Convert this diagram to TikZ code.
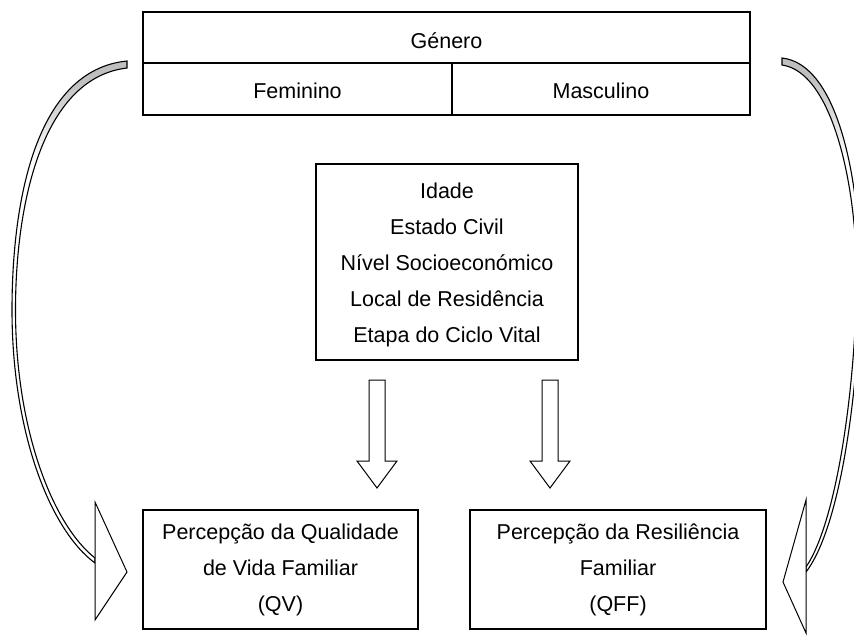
\documentclass[tikz,border=0pt]{standalone}
\usepackage{fontspec}
\setmainfont{Liberation Sans}
\pgfdeclareverticalshading{bandfade}{100bp}{color(0bp)=(white); color(65bp)=(white); color(73bp)=(black!25); color(100bp)=(black!25)}
\begin{document}
\begin{tikzpicture}[x=1pt,y=-1pt,
  box/.style={draw=black, line width=1.2pt, inner sep=0pt},
  txt/.style={inner sep=0pt, align=center, font=\fontsize{21.5}{36}\selectfont},
  blockarrow/.style={draw=black, fill=white, line width=1pt, line join=miter},
  band/.style={draw=black, line width=1.1pt, shade, shading=bandfade}]
\useasboundingbox (0,0) rectangle (854,635);
\clip (0,0) rectangle (854,635);

% top table
\node[box, minimum width=607, minimum height=51] (gen) at (446.5,37.5) {};
\node[box, minimum width=309, minimum height=52] (fem) at (297.5,89) {};
\node[box, minimum width=298, minimum height=52] (mas) at (601,89) {};
\node[txt] (gent) at (446.5,41) {G\'enero};
\node[txt] (femt) at (297.5,91) {Feminino};
\node[txt] (mast) at (601,91) {Masculino};

% middle box
\node[box, minimum width=262, minimum height=196] (mid) at (447,262) {};
\node[txt] (midt) at (447,265)
  {Idade\\Estado Civil\\N\'ivel Socioecon\'omico\\Local de Resid\^encia\\Etapa do Ciclo Vital};

% bottom boxes
\node[box, minimum width=275, minimum height=119] (qv) at (280.5,569.5) {};
\node[txt] (qvt) at (280.5,569.5) {Percep\c{c}\~ao da Qualidade\\de Vida Familiar\\(QV)};
\node[box, minimum width=296, minimum height=119] (qff) at (618,569.5) {};
\node[txt] (qfft) at (618,569.5) {Percep\c{c}\~ao da Resili\^encia\\Familiar\\(QFF)};

% block arrows down
\draw[blockarrow] (369,380) -- (385,380) -- (385,461) -- (397,461) -- (377,488) -- (357,461) -- (369,461) -- cycle;
\draw[blockarrow] (542,380) -- (558,380) -- (558,461) -- (570,461) -- (550,488) -- (530,461) -- (542,461) -- cycle;

% curved bands
\path[band] (127,61) .. controls (36,70) and (12,200) .. (12,310)
  .. controls (12,432) and (50,530) .. (95,563) -- (95,558)
  .. controls (53,525) and (15.5,430) .. (15.5,310)
  .. controls (15.5,204) and (42,78) .. (127,68) -- cycle;
\path[band] (782,58) .. controls (838,64) and (860,180) .. (860,275)
  .. controls (860,380) and (842,525) .. (806,572) -- (806,567)
  .. controls (838,520) and (856.5,378) .. (856.5,275)
  .. controls (856.5,184) and (832,72) .. (782,65) -- cycle;

% arrow heads of the curved bands
\draw[blockarrow] (95,502) -- (127,572) -- (95,620) -- cycle;
\draw[blockarrow] (806,500) -- (783,582) -- (806,633) -- cycle;
\end{tikzpicture}
\end{document}
